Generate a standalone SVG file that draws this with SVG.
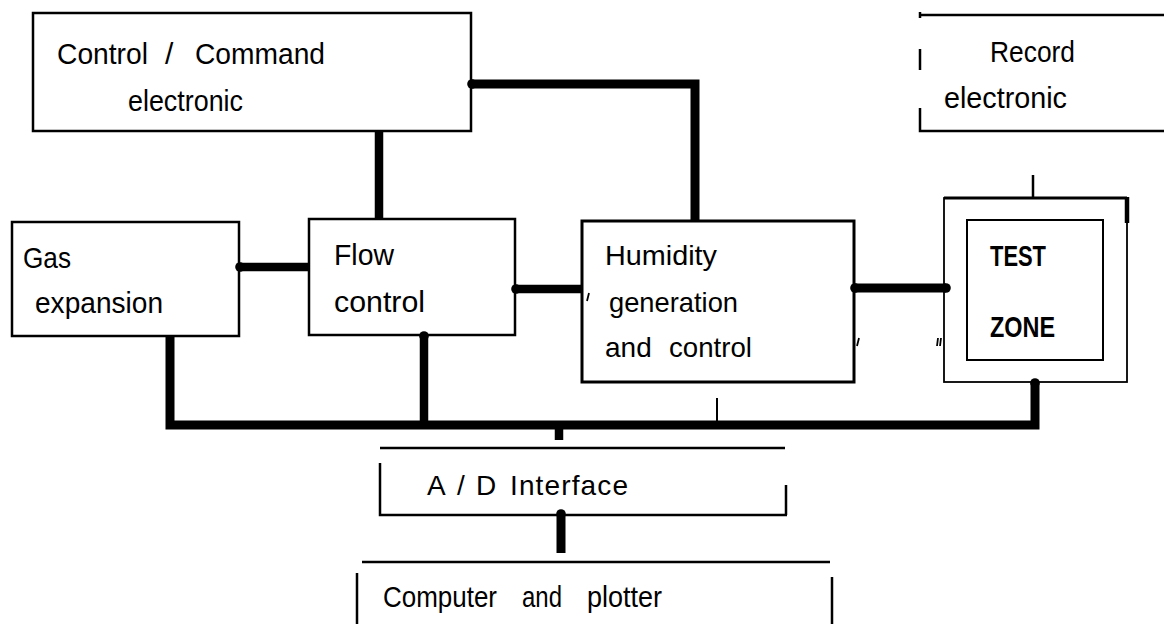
<svg xmlns="http://www.w3.org/2000/svg" width="1164" height="624" viewBox="0 0 1164 624">
<style>
.box{fill:none;stroke:#000;stroke-width:2.5}
.ln{fill:none;stroke:#000;stroke-width:2.5}
.thin{fill:none;stroke:#000;stroke-width:1.8}
.con{fill:none;stroke:#000;stroke-width:8.5}
.t{font-family:"Liberation Sans",Arial,sans-serif;font-size:28px;fill:#000}
.tl{font-family:"Liberation Sans",Arial,sans-serif;font-size:30px;fill:#000}
.tb{font-family:"Liberation Sans",Arial,sans-serif;font-size:30px;font-weight:bold;fill:#000}
</style>
<defs>
<marker id="blob" markerUnits="userSpaceOnUse" markerWidth="14" markerHeight="14" refX="7" refY="7" orient="auto">
<circle cx="7" cy="7" r="4.8" fill="#000"/>
</marker>
</defs>
<rect width="1164" height="624" fill="#fff"/>

<g id="control">
<rect class="box" x="33" y="13" width="438" height="118"/>
<text class="tl" x="57" y="64" textLength="91" lengthAdjust="spacingAndGlyphs">Control</text>
<text class="tl" x="165" y="64">/</text>
<text class="tl" x="195" y="64" textLength="130" lengthAdjust="spacingAndGlyphs">Command</text>
<text class="tl" x="128" y="111" textLength="115" lengthAdjust="spacingAndGlyphs">electronic</text>
</g>

<g id="record">
<path class="ln" d="M920,15 H1164 M920,12 V18 M920,49 V70 M920,108 V131 H1164"/>
<text class="tl" x="990" y="62" textLength="85" lengthAdjust="spacingAndGlyphs">Record</text>
<text class="tl" x="944" y="108" textLength="123" lengthAdjust="spacingAndGlyphs">electronic</text>
</g>

<g id="gas">
<rect class="box" x="12" y="222" width="227" height="114"/>
<text class="tl" x="23" y="268" textLength="48" lengthAdjust="spacingAndGlyphs">Gas</text>
<text class="tl" x="35" y="313" textLength="128" lengthAdjust="spacingAndGlyphs">expansion</text>
</g>

<g id="flow">
<rect class="box" x="309" y="219" width="206" height="116"/>
<text class="tl" x="334" y="265" textLength="60" lengthAdjust="spacingAndGlyphs">Flow</text>
<text class="tl" x="334" y="312" textLength="91" lengthAdjust="spacingAndGlyphs">control</text>
</g>

<g id="humidity">
<rect class="box" x="582" y="221" width="272" height="161" style="stroke-width:3"/>
<text class="t" x="605" y="265" textLength="112" lengthAdjust="spacingAndGlyphs">Humidity</text>
<text class="t" x="609" y="312" textLength="129" lengthAdjust="spacingAndGlyphs">generation</text>
<text class="t" x="605" y="357">and</text>
<text class="t" x="669" y="357" textLength="83" lengthAdjust="spacingAndGlyphs">control</text>
<path class="thin" d="M589,293 L587,301 M859,338 L857,346"/>
</g>

<g id="testzone">
<rect class="thin" x="944" y="198" width="183" height="184"/>
<path class="ln" d="M944,198 H1127" style="stroke-width:3"/>
<path class="ln" d="M1127,197 V223" style="stroke-width:4.5"/>
<rect class="box" x="967" y="220" width="136" height="140" style="stroke-width:2"/>
<text class="tb" x="990" y="266" textLength="56" lengthAdjust="spacingAndGlyphs">TEST</text>
<text class="tb" x="990" y="337" textLength="65" lengthAdjust="spacingAndGlyphs">ZONE</text>
<path class="thin" d="M938,338 L937,346 M941,338 L940,346"/>
</g>

<g id="interface">
<path class="ln" d="M380,448 H785 M380,463 V515 H787 M786,485 V515"/>
<text class="t" x="427" y="495">A</text>
<text class="t" x="457" y="495">/</text>
<text class="t" x="476" y="495">D</text>
<text class="t" x="510" y="495" textLength="118" lengthAdjust="spacing">Interface</text>
</g>

<g id="computer">
<path class="ln" d="M362,562 H830 M357,573 V624 M832,577 V624"/>
<text class="tl" x="383" y="607" textLength="114" lengthAdjust="spacingAndGlyphs">Computer</text>
<text class="tl" x="522" y="607" textLength="40" lengthAdjust="spacingAndGlyphs">and</text>
<text class="tl" x="587" y="607" textLength="75" lengthAdjust="spacingAndGlyphs">plotter</text>
</g>

<g id="connectors">
<path class="con" d="M472,84 H695 V220" marker-start="url(#blob)" style="stroke-width:9"/>
<path class="con" d="M379,131 V219"/>
<path class="con" d="M240,267 H309" marker-start="url(#blob)"/>
<path class="con" d="M516,289 H582" marker-start="url(#blob)"/>
<path class="con" d="M855,288 H946" marker-start="url(#blob)" marker-end="url(#blob)" style="stroke-width:9"/>
<path class="con" d="M170,336 V425 H1035 V383" marker-end="url(#blob)" style="stroke-width:9"/>
<path class="con" d="M424,336 V421" marker-start="url(#blob)"/>
<path class="ln" d="M717,398 V421" style="stroke-width:2"/>
<path class="con" d="M559,429 V440"/>
<path class="con" d="M561,514 V553" marker-start="url(#blob)" style="stroke-width:9"/>
<path class="ln" d="M1033,175 V198"/>
</g>
</svg>
